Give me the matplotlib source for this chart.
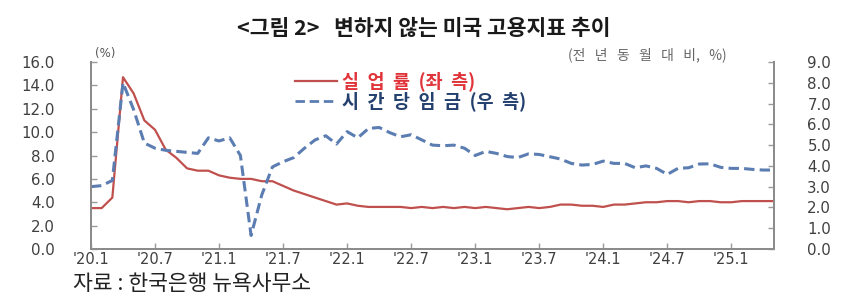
import matplotlib
matplotlib.use("Agg")
import matplotlib.pyplot as plt
from matplotlib.lines import Line2D

plt.rcParams['font.family'] = ['Noto Sans CJK KR', 'DejaVu Sans']

# ---- data ----
unemployment = [
    3.5, 3.5, 4.4, 14.7, 13.3, 11.0, 10.2, 8.5, 7.8, 6.9, 6.7, 6.7,
    6.3, 6.1, 6.0, 6.0, 5.8, 5.8, 5.4, 5.0, 4.7, 4.4, 4.1, 3.8,
    3.9, 3.7, 3.6, 3.6, 3.6, 3.6, 3.5, 3.6, 3.5, 3.6, 3.5, 3.6,
    3.5, 3.6, 3.5, 3.4, 3.5, 3.6, 3.5, 3.6, 3.8, 3.8, 3.7, 3.7,
    3.6, 3.8, 3.8, 3.9, 4.0, 4.0, 4.1, 4.1, 4.0, 4.1, 4.1, 4.0,
    4.0, 4.1, 4.1, 4.1, 4.1,
]
hourly_wage = [
    3.0, 3.05, 3.3, 8.0, 6.7, 5.1, 4.85, 4.75, 4.7, 4.65, 4.6, 5.35,
    5.2, 5.35, 4.5, 0.65, 2.6, 3.95, 4.2, 4.4, 4.85, 5.25, 5.45, 5.05,
    5.65, 5.35, 5.8, 5.85, 5.6, 5.4, 5.5, 5.25, 5.0, 4.97, 5.0, 4.85,
    4.5, 4.7, 4.6, 4.45, 4.4, 4.58, 4.55, 4.44, 4.33, 4.12, 4.04, 4.07,
    4.23, 4.12, 4.12, 3.91, 4.0, 3.88, 3.59, 3.88, 3.91, 4.09, 4.1, 3.93,
    3.88, 3.88, 3.83, 3.8, 3.8,
]
x_tick_labels = ["'20.1", "'20.7", "'21.1", "'21.7", "'22.1", "'22.7",
                 "'23.1", "'23.7", "'24.1", "'24.7", "'25.1"]
left_ticks = [0, 2, 4, 6, 8, 10, 12, 14, 16]
right_ticks = [0, 1, 2, 3, 4, 5, 6, 7, 8, 9]

title = "<그림 2>   변하지 않는 미국 고용지표 추이"
legend_labels = ["실  업  률  (좌  측)", "시  간  당  임  금  (우  측)"]
left_unit = "(%)"
right_unit = "(전   년   동   월   대   비,   %)"
source = "자료 : 한국은행 뉴욕사무소"

# ---- figure ----
fig = plt.figure(figsize=(8.6, 3.03), dpi=100)
ax = fig.add_axes([91/860, 54/303, (774-91)/860, (249-62)/303])
ax2 = ax.twinx()

red = "#C0504D"
blue = "#5B7DB1"
months = list(range(len(unemployment)))

ax.plot(months, unemployment, color=red, lw=1.6, zorder=3)
ax2.plot(months, hourly_wage, color=blue, lw=2.2, dashes=(3.4, 1.7), zorder=2)

ax.set_xlim(0, len(unemployment) - 1)
ax.set_ylim(0, 16)
ax2.set_ylim(0, 9)
ax.set_xticks(list(range(0, len(unemployment), 6)))
ax.set_xticklabels(x_tick_labels)
ax.set_yticks(left_ticks)
ax.set_yticklabels([f"{v:.1f}" for v in left_ticks])
ax2.set_yticks(right_ticks)
ax2.set_yticklabels([f"{v:.1f}" for v in right_ticks])

for lab in ax.get_yticklabels() + ax2.get_yticklabels():
    lab.set_fontfamily('DejaVu Sans')
    lab.set_fontsize(10.8)
    lab.set_color("#404040")
for lab in ax.get_xticklabels():
    lab.set_fontfamily('DejaVu Sans')
    lab.set_fontsize(10.5)
    lab.set_color("#404040")

ax.tick_params(axis='both', direction='in', length=4, color="#9a9a9a", width=1)
ax.tick_params(axis='y', pad=26)
ax.tick_params(axis='x', pad=2)
ax2.tick_params(axis='y', direction='in', length=4, color="#9a9a9a", width=1, pad=24)

for a in (ax, ax2):
    a.spines['top'].set_visible(False)
    for s in ('left', 'right', 'bottom'):
        a.spines[s].set_color("#8c8c8c")
        a.spines[s].set_linewidth(1.4)
ax.spines['left'].set_color("#707070")

# texts
fig.text(424/860, 1 - 28/303, title, ha='center', va='center', fontsize=15.5,
         fontweight='bold', color="#1a1a1a")
fig.text(95/860, 1 - 53/303, left_unit, ha='left', va='center', fontsize=8.5,
         color="#555555", family='DejaVu Sans')
fig.text(727/860, 1 - 55/303, right_unit, ha='right', va='center', fontsize=10,
         color="#666666")
fig.text(73/860, 1 - 284/303, source, ha='left', va='center', fontsize=15.5,
         color="#222222")

# legend
lx0, lx1 = 295/860, 337/860
fig.add_artist(Line2D([lx0, lx1], [1 - 81/303] * 2, transform=fig.transFigure,
                      color=red, lw=1.6))
fig.add_artist(Line2D([lx0, lx1], [1 - 101/303] * 2, transform=fig.transFigure,
                      color=blue, lw=2.0, dashes=(3.4, 1.7)))
fig.text(342/860, 1 - 81/303, legend_labels[0], ha='left', va='center',
         fontsize=13.3, fontweight='bold', color="#E0343A")
fig.text(342/860, 1 - 101/303, legend_labels[1], ha='left', va='center',
         fontsize=13.3, fontweight='bold', color="#23406E")

fig.savefig("out.png", dpi=100)
